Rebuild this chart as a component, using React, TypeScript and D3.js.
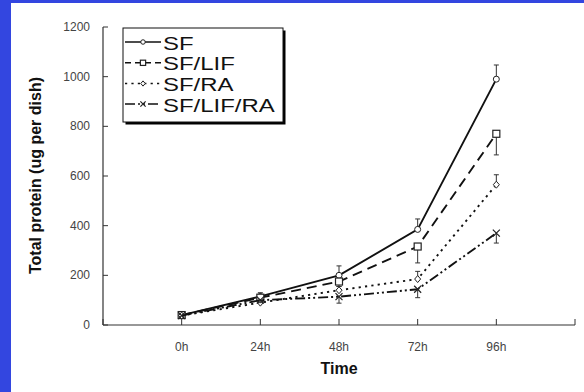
import React from "react";
import * as d3 from "d3";

const hours = [0, 24, 48, 72, 96];
const tickHours = [-24, 0, 24, 48, 72, 96, 120];
const yTicks = [0, 200, 400, 600, 800, 1000, 1200];

const seriesNames = ["SF", "SF/LIF", "SF/RA", "SF/LIF/RA"];
const sfValues = [40, 115, 200, 385, 990];
const sfLifValues = [40, 110, 175, 316, 770];
const sfRaValues = [38, 90, 140, 185, 565];
const sfLifRaValues = [38, 100, 114, 144, 370];
const sfErr = [0, 15, 38, 42, 57];
const sfLifErr = [0, 10, 20, 66, 85];
const sfRaErr = [0, 10, 15, 31, 40];
const sfLifRaErr = [0, 10, 26, 34, 40];
const errDirection = [1, -1, 1, -1];

const W = 584;
const H = 392;
const FONT = "'Liberation Sans', Arial, Helvetica, sans-serif";

const dashes = ["none", "10,6", "2.2,4.2", "10,3,2,3,2,3"];

function Marker({ kind, x, y, s = 1 }: { kind: number; x: number; y: number; s?: number }) {
  const c = "#222";
  if (kind === 0) return <circle cx={x} cy={y} r={3 * s} fill="white" stroke={c} strokeWidth={1} />;
  if (kind === 1)
    return <rect x={x - 3.5 * s} y={y - 3.5 * s} width={7 * s} height={7 * s} fill="white" stroke={c} strokeWidth={1.2} />;
  if (kind === 2)
    return (
      <path
        d={`M${x},${y - 3.5 * s}L${x + 3 * s},${y}L${x},${y + 3.5 * s}L${x - 3 * s},${y}Z`}
        fill="white"
        stroke={c}
        strokeWidth={1}
      />
    );
  const r = 3.5 * s;
  return <path d={`M${x - r},${y - r}L${x + r},${y + r}M${x - r},${y + r}L${x + r},${y - r}`} stroke={c} strokeWidth={1.2} />;
}

export default function App() {
  const x = d3.scaleLinear().domain([-24, 120]).range([103, 575]);
  const y = d3.scaleLinear().domain([0, 1200]).range([325, 27]);
  const values = [sfValues, sfLifValues, sfRaValues, sfLifRaValues];
  const errs = [sfErr, sfLifErr, sfRaErr, sfLifRaErr];
  const line = d3
    .line<number>()
    .x((_, i) => x(hours[i]))
    .y((d) => y(d));

  const legendX = 123;
  const legendY = 28;
  const legendW = 160;
  const legendH = 94;
  const rowBase = [49.5, 70.3, 91, 111.5];

  return (
    <div style={{ position: "absolute", left: 0, top: 0 }}>
      <svg width={W} height={H} style={{ display: "block" }} fontFamily={FONT}>
        <rect x={0} y={0} width={W} height={H} fill="#3346e0" />
        <rect x={11} y={3} width={W - 11} height={H - 3} fill="white" />

        {/* axes */}
        <line x1={x(-24)} x2={x(-24)} y1={y(0)} y2={y(1200)} stroke="#333" strokeWidth={1.2} />
        <line x1={x(-24)} x2={x(120)} y1={y(0)} y2={y(0)} stroke="#333" strokeWidth={1.2} />
        {yTicks.map((t) => (
          <g key={"y" + t}>
            <line x1={x(-24)} x2={x(-24) + 5} y1={y(t)} y2={y(t)} stroke="#333" strokeWidth={1} />
            <text x={90} y={y(t) + 4} textAnchor="end" fontSize={12} fill="#444">
              {t}
            </text>
          </g>
        ))}
        {tickHours.map((t) => (
          <line key={"x" + t} x1={x(t)} x2={x(t)} y1={y(0)} y2={y(0) - 6} stroke="#333" strokeWidth={1} />
        ))}
        {hours.map((t) => (
          <text key={"xl" + t} x={x(t)} y={351} textAnchor="middle" fontSize={12} fill="#444">
            {t + "h"}
          </text>
        ))}
        <text x={x(48)} y={374} textAnchor="middle" fontSize={16} fontWeight="bold" fill="#111">
          Time
        </text>
        <text
          transform={`translate(41, 175.5) rotate(-90)`}
          textAnchor="middle"
          fontSize={16}
          fontWeight="bold"
          fill="#111"
        >
          Total protein (ug per dish)
        </text>

        {/* series */}
        {values.map((vals, si) => (
          <g key={"s" + si}>
            <path d={line(vals) || ""} fill="none" stroke="#111" strokeWidth={1.9} strokeDasharray={dashes[si]} />
            {vals.map((v, i) =>
              errs[si][i] > 0 ? (
                <g key={"e" + i}>
                  <line
                    x1={x(hours[i])}
                    x2={x(hours[i])}
                    y1={y(v)}
                    y2={y(v + errDirection[si] * errs[si][i])}
                    stroke="#333"
                    strokeWidth={1}
                  />
                  <line
                    x1={x(hours[i]) - 2.5}
                    x2={x(hours[i]) + 2.5}
                    y1={y(v + errDirection[si] * errs[si][i])}
                    y2={y(v + errDirection[si] * errs[si][i])}
                    stroke="#333"
                    strokeWidth={1}
                  />
                </g>
              ) : null
            )}
            {vals.map((v, i) => (
              <Marker key={"m" + i} kind={si} x={x(hours[i])} y={y(v)} />
            ))}
          </g>
        ))}

        {/* legend */}
        <rect x={legendX + 2.5} y={legendY + 2.5} width={legendW} height={legendH} fill="#000" />
        <rect x={legendX} y={legendY} width={legendW} height={legendH} fill="white" stroke="#111" strokeWidth={1} />
        {seriesNames.map((name, si) => (
          <g key={"l" + si}>
            <line
              x1={legendX + 2}
              x2={legendX + 38}
              y1={rowBase[si] - 7.5}
              y2={rowBase[si] - 7.5}
              stroke="#111"
              strokeWidth={1.5}
              strokeDasharray={si === 1 ? "6,4" : dashes[si]}
            />
            <Marker kind={si} x={legendX + 20} y={rowBase[si] - 7.5} s={0.75} />
            <text transform={`translate(${legendX + 40}, ${rowBase[si]}) scale(1.26,1)`} fontSize={19} fill="#111">
              {name}
            </text>
          </g>
        ))}
      </svg>
    </div>
  );
}
